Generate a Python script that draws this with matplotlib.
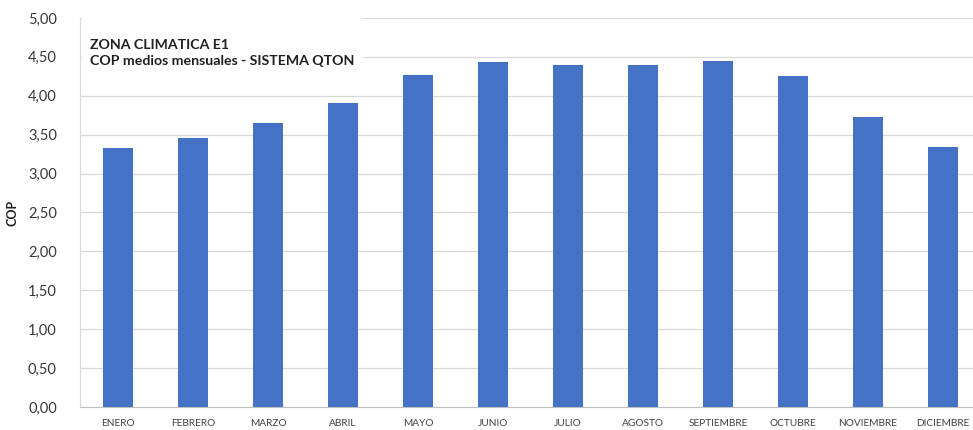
import matplotlib.pyplot as plt
from matplotlib.ticker import FuncFormatter
from matplotlib.patches import Rectangle

meses = ["ENERO", "FEBRERO", "MARZO", "ABRIL", "MAYO", "JUNIO", "JULIO",
         "AGOSTO", "SEPTIEMBRE", "OCTUBRE", "NOVIEMBRE", "DICIEMBRE"]
cop = [3.33, 3.46, 3.65, 3.91, 4.27, 4.43, 4.40, 4.40, 4.45, 4.25, 3.73, 3.34]
y_ticks = [0, 0.5, 1, 1.5, 2, 2.5, 3, 3.5, 4, 4.5, 5]

plt.rcParams['font.family'] = ['Lato', 'DejaVu Sans']

fig = plt.figure(figsize=(9.73, 4.30), dpi=100)
ax = fig.add_axes([0.0827, 0.0535, 0.925, 0.9047])

x = range(len(meses))
ax.bar(x, cop, width=0.39, color="#4472C4", zorder=3)

ax.set_xlim(-0.5, len(meses) - 0.5)
ax.set_ylim(0, 5)
ax.set_yticks(y_ticks)
ax.yaxis.set_major_formatter(FuncFormatter(lambda v, p: f"{v:.2f}".replace(".", ",")))
ax.set_xticks(list(x))
ax.set_xticklabels(meses, fontsize=7.3, color="#404040")
ax.tick_params(axis="y", length=0, labelsize=10.5, labelcolor="#383838", pad=17)
ax.tick_params(axis="x", length=0, pad=9)
ax.grid(axis="y", color="#d9d9d9", linewidth=0.9, zorder=0)

for s in ["top", "right"]:
    ax.spines[s].set_visible(False)
ax.spines["left"].set_color("#d9d9d9")
ax.spines["bottom"].set_color("#bfbfbf")

ax.set_ylabel("COP", fontsize=9, fontweight="bold", color="#202020")
ax.yaxis.set_label_coords(-0.069, 0.5)

# caja blanca del titulo que tapa las rejillas superiores
ax.add_patch(Rectangle((0.002, 0.872), 0.312, 0.15, transform=ax.transAxes,
                       facecolor="white", edgecolor="none", zorder=4, clip_on=False))
ax.text(0.011, 0.947, "ZONA CLIMATICA E1\nCOP medios mensuales - SISTEMA QTON",
        transform=ax.transAxes, fontsize=10.2, fontweight="bold", color="#202020",
        va="top", ha="left", linespacing=1.45, zorder=5)

plt.savefig("out.png", dpi=100)
